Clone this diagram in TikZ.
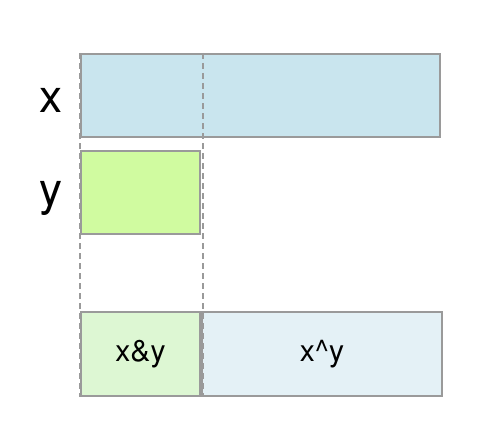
\documentclass[tikz,border=0pt]{standalone}
\usepackage{fontspec}
\setmainfont{TeX Gyre Heros}
\usetikzlibrary{positioning}
\definecolor{boxgray}{HTML}{9A9A9A}
\definecolor{xblue}{HTML}{C9E5EE}
\definecolor{ygreen}{HTML}{D0FBA0}
\definecolor{andgreen}{HTML}{DDF7D3}
\definecolor{xorblue}{HTML}{E4F1F6}
\begin{document}
\begin{tikzpicture}[x=1pt, y=-1pt,
  bitbox/.style={draw=boxgray, line width=2pt, inner sep=0pt, minimum height=83pt},
  guide/.style={draw=boxgray, line width=2pt, dash pattern=on 6pt off 4pt},
  biglabel/.style={font=\fontsize{46}{46}\selectfont},
  result/.style={font=\fontsize{30}{30}\selectfont}]
  \useasboundingbox (0,0) rectangle (490,428);

  % Operands
  \node[bitbox, fill=xblue, minimum width=359pt, anchor=north west] (xbox) at (80,53) {};
  \node[bitbox, fill=ygreen, minimum width=119pt, anchor=north west] (ybox) at (80,150) {};
  \node[biglabel, left=14pt of xbox, yshift=-5pt] (xlab) {x};
  \node[biglabel, left=14pt of ybox, yshift=-6pt] (ylab) {y};

  % Results
  \node[bitbox, fill=andgreen, minimum width=119pt, minimum height=84pt, anchor=north west, result] (andbox) at (80,311) {x\&y};
  \node[bitbox, fill=xorblue, minimum width=240pt, minimum height=84pt, right=0pt of andbox, result] (xorbox) {x\^{}y};

  % Guide lines
  \draw[guide] (xbox.north west) -- (andbox.south west);
  \draw[guide] ([xshift=1.5pt]ybox.east |- xbox.north) -- ([xshift=1.5pt]ybox.east |- andbox.south);
\end{tikzpicture}
\end{document}
